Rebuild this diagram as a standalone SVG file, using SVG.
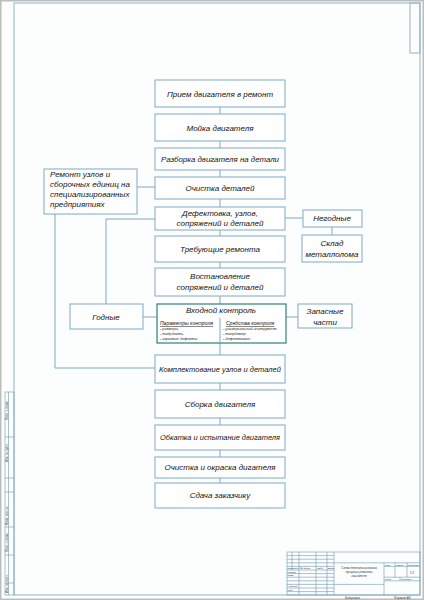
<svg xmlns="http://www.w3.org/2000/svg" width="424" height="600" viewBox="0 0 424 600">
<style>
.bx{fill:#fff;stroke:#7fa9c4;stroke-width:1}
.bxd{fill:#fff;stroke:#2f7f78;stroke-width:1.2}
.ln{fill:none;stroke:#7fa9c4;stroke-width:1}
.fr{fill:none;stroke:#8fb3c9;stroke-width:1}
.tb{fill:none;stroke:#6f97b3;stroke-width:0.6}
.t{font-family:"Liberation Sans",Arial,sans-serif;font-style:italic;font-size:8px;fill:#111;text-anchor:middle}
.tl{font-family:"Liberation Sans",Arial,sans-serif;font-style:italic;font-size:8px;fill:#111}
.s{font-family:"Liberation Sans",Arial,sans-serif;font-style:italic;font-size:5px;fill:#111;text-decoration:underline}
.xs{font-family:"Liberation Sans",Arial,sans-serif;font-style:italic;font-size:3.8px;fill:#222}
.tt{font-family:"Liberation Sans",Arial,sans-serif;font-style:italic;font-size:3px;fill:#333}
.th{font-family:"Liberation Sans",Arial,sans-serif;font-style:italic;font-size:2.4px;fill:#333}
</style>
<rect x="0" y="0" width="424" height="600" fill="#fcfefd"/>
<rect x="0.75" y="0.75" width="422.5" height="598.5" fill="none" stroke="#bdbdbd" stroke-width="1.5"/>
<rect class="fr" x="14" y="3" width="406" height="592"/>
<rect class="fr" x="410" y="3" width="10" height="50"/>
<g id="side-strip">
<rect class="tb" x="5" y="392" width="9" height="203"/>
<line class="tb" x1="8.5" y1="392" x2="8.5" y2="595"/>
<line class="tb" x1="5" y1="437" x2="14" y2="437"/>
<line class="tb" x1="5" y1="478" x2="14" y2="478"/>
<line class="tb" x1="5" y1="492" x2="14" y2="492"/>
<line class="tb" x1="5" y1="527" x2="14" y2="527"/>
<line class="tb" x1="5" y1="555" x2="14" y2="555"/>
<line class="tb" x1="5" y1="583" x2="14" y2="583"/>
<text class="tt" transform="translate(7.8,420) rotate(-90)">Подп. и дата</text>
<text class="tt" transform="translate(7.8,462) rotate(-90)">Инв. № дубл.</text>
<text class="tt" transform="translate(7.8,525) rotate(-90)">Взам. инв. №</text>
<text class="tt" transform="translate(7.8,552) rotate(-90)">Подп. и дата</text>
<text class="tt" transform="translate(7.8,593) rotate(-90)">Инв. № подл.</text>
</g>
<g id="connectors">
<line class="ln" x1="220" y1="107" x2="220" y2="483"/>
<polyline class="ln" points="137,187 155,187"/>
<polyline class="ln" points="55,214 55,368 155,368"/>
<polyline class="ln" points="106,304 106,219 155,219"/>
<line class="ln" x1="143" y1="317" x2="157" y2="317"/>
<line class="ln" x1="285" y1="218" x2="303" y2="218"/>
<line class="ln" x1="332" y1="227" x2="332" y2="235"/>
<line class="ln" x1="286" y1="317" x2="298" y2="317"/>
</g>
<g id="n1"><rect class="bx" x="155" y="80" width="130" height="27"/><text class="t" x="220" y="97">Прием двигателя в ремонт</text></g>
<g id="n2"><rect class="bx" x="155" y="114" width="130" height="27"/><text class="t" x="220" y="131">Мойка двигателя</text></g>
<g id="n3"><rect class="bx" x="155" y="148" width="130" height="22"/><text class="t" x="220" y="162" textLength="118" lengthAdjust="spacingAndGlyphs">Разборка двигателя на детали</text></g>
<g id="n4"><rect class="bx" x="155" y="177" width="130" height="22"/><text class="t" x="220" y="191">Очистка деталей</text></g>
<g id="n5"><rect class="bx" x="155" y="207" width="130" height="23"/><text class="t" x="220" y="216">Дефектовка, узлов,</text><text class="t" x="220" y="226">сопряжений и деталей</text></g>
<g id="n6"><rect class="bx" x="155" y="236" width="130" height="26"/><text class="t" x="220" y="252">Требующие ремонта</text></g>
<g id="n7"><rect class="bx" x="155" y="268" width="130" height="28"/><text class="t" x="220" y="279">Востановление</text><text class="t" x="220" y="290">сопряжений и деталей</text></g>
<g id="n8">
<rect class="bxd" x="157" y="304" width="129" height="39"/>
<text class="t" x="221" y="313">Входной контроль</text>
<line class="ln" x1="220" y1="318" x2="220" y2="343"/>
<text class="s" x="160" y="325">Параметры контроля</text>
<text class="xs" x="160" y="330">- размеры,</text>
<text class="xs" x="160" y="335">- твёрдость,</text>
<text class="xs" x="160" y="340">- скрытые дефекты</text>
<text class="s" x="226" y="325">Средства контроля</text>
<text class="xs" x="223" y="330">- универсальный инструмент</text>
<text class="xs" x="223" y="335">- твердомер,</text>
<text class="xs" x="223" y="340">- дефектоскоп.</text>
</g>
<g id="n9"><rect class="bx" x="155" y="355" width="130" height="28"/><text class="t" x="220" y="372" textLength="122" lengthAdjust="spacingAndGlyphs">Комплектование узлов и деталей</text></g>
<g id="n10"><rect class="bx" x="155" y="390" width="130" height="28"/><text class="t" x="220" y="407">Сборка двигателя</text></g>
<g id="n11"><rect class="bx" x="155" y="425" width="130" height="25"/><text class="t" x="220" y="440" textLength="120" lengthAdjust="spacingAndGlyphs">Обкатка и испытание двигателя</text></g>
<g id="n12"><rect class="bx" x="155" y="457" width="130" height="21"/><text class="t" x="220" y="470">Очистка и окраска дигателя</text></g>
<g id="n13"><rect class="bx" x="155" y="483" width="130" height="25"/><text class="t" x="220" y="498">Сдача заказчику</text></g>
<g id="n-repair"><rect class="bx" x="44" y="169" width="93" height="45"/>
<text class="tl" x="50" y="177">Ремонт узлов и</text>
<text class="tl" x="50" y="187">сборочных единиц на</text>
<text class="tl" x="50" y="197">специализированных</text>
<text class="tl" x="50" y="207">предприятиях</text></g>
<g id="n-good"><rect class="bx" x="70" y="304" width="73" height="25"/><text class="t" x="106" y="320">Годные</text></g>
<g id="n-bad"><rect class="bx" x="303" y="210" width="59" height="17"/><text class="t" x="332" y="221">Негодные</text></g>
<g id="n-scrap"><rect class="bx" x="302" y="235" width="60" height="27"/><text class="t" x="332" y="246">Склад</text><text class="t" x="332" y="257">металлолома</text></g>
<g id="n-spare"><rect class="bx" x="298" y="304" width="54" height="24"/><text class="t" x="325" y="314">Запасные</text><text class="t" x="325" y="325">части</text></g>
<g id="title-block">
<rect class="tb" x="287" y="552" width="133" height="43"/>
<line class="tb" x1="292" y1="552" x2="292" y2="570"/>
<line class="tb" x1="299" y1="552" x2="299" y2="595"/>
<line class="tb" x1="316" y1="552" x2="316" y2="595"/>
<line class="tb" x1="327" y1="552" x2="327" y2="595"/>
<line class="tb" x1="334" y1="552" x2="334" y2="595"/>
<line class="tb" x1="287" y1="555.6" x2="334" y2="555.6"/>
<line class="tb" x1="287" y1="559.2" x2="334" y2="559.2"/>
<line class="tb" x1="287" y1="562.8" x2="420" y2="562.8"/>
<line class="tb" x1="287" y1="566.4" x2="334" y2="566.4"/>
<line class="tb" x1="287" y1="570" x2="334" y2="570"/>
<line class="tb" x1="287" y1="573.6" x2="334" y2="573.6"/>
<line class="tb" x1="287" y1="577.2" x2="334" y2="577.2"/>
<line class="tb" x1="287" y1="580.8" x2="334" y2="580.8"/>
<line class="tb" x1="287" y1="584.4" x2="334" y2="584.4"/>
<line class="tb" x1="287" y1="588" x2="334" y2="588"/>
<line class="tb" x1="287" y1="591.6" x2="334" y2="591.6"/>
<line class="tb" x1="384" y1="562.8" x2="384" y2="595"/>
<line class="tb" x1="384" y1="566.4" x2="420" y2="566.4"/>
<line class="tb" x1="384" y1="577.2" x2="420" y2="577.2"/>
<line class="tb" x1="384" y1="580.8" x2="420" y2="580.8"/>
<line class="tb" x1="395" y1="562.8" x2="395" y2="577.2"/>
<line class="tb" x1="407" y1="562.8" x2="407" y2="577.2"/>
<line class="tb" x1="400" y1="577.2" x2="400" y2="580.8"/>
<line class="tb" x1="334" y1="584.4" x2="384" y2="584.4"/>
<text class="th" x="287.6" y="569.2">Изм.</text>
<text class="th" x="292.6" y="569.2">Лист</text>
<text class="th" x="300" y="569.2">№ докум.</text>
<text class="th" x="317" y="569.2">Подп.</text>
<text class="th" x="328" y="569.2">Дата</text>
<text class="th" x="287.6" y="572.8">Разраб.</text>
<text class="th" x="287.6" y="576.4">Пров.</text>
<text class="th" x="287.6" y="587.2">Н.контр.</text>
<text class="th" x="287.6" y="590.8">Утв.</text>
<text class="tt" x="359" y="569" text-anchor="middle">Схема технологического</text>
<text class="tt" x="359" y="573" text-anchor="middle">процесса ремонта</text>
<text class="tt" x="359" y="577" text-anchor="middle">двигателя</text>
<text class="th" x="385" y="565.6">Лит.</text>
<text class="th" x="396" y="565.6">Масса</text>
<text class="th" x="407.6" y="565.6">Масштаб</text>
<text class="tt" x="410" y="574">1:1</text>
<text class="th" x="385" y="580">Лист</text>
<text class="th" x="401" y="580">Листов 1</text>
<text class="tt" x="345" y="598.5">Копировал</text>
<text class="tt" x="394" y="598.5">Формат  А3</text>
</g>
</svg>
